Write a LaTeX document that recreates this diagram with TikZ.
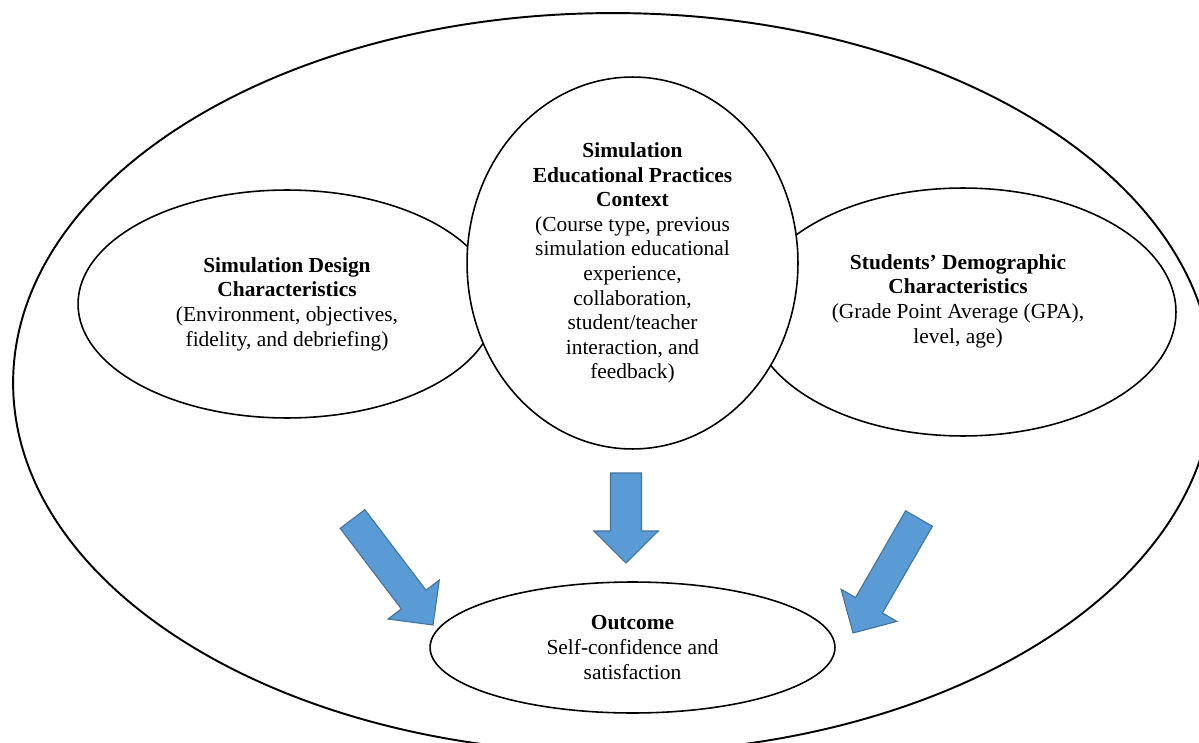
\documentclass[tikz,border=0pt]{standalone}
\usepackage{fontspec}
\setmainfont{Liberation Serif}
\usetikzlibrary{positioning, shapes.geometric, calc}

\definecolor{arrowfill}{HTML}{5B9BD5}
\definecolor{arrowedge}{HTML}{41719C}

% Block arrow from a tail coordinate to a tip coordinate
\newcommand{\blockarrow}[2]{%
    \coordinate (head) at ($(#2)!0.64cm!(#1)$);
    \draw[flow] ($(#1)!0.31cm!90:(#2)$) -- ($(head)!0.31cm!90:(#2)$)
        -- ($(head)!0.645cm!90:(#2)$) -- (#2)
        -- ($(head)!0.645cm!-90:(#2)$) -- ($(head)!0.31cm!-90:(#2)$)
        -- ($(#1)!0.31cm!-90:(#2)$) -- cycle;
}

\begin{document}
\begin{tikzpicture}[
    x=0.02cm, y=-0.02cm,
    font=\fontsize{12.2}{14}\selectfont,
    % Styles
    oval/.style={ % Ellipse around a group of factors
        ellipse,
        draw,
        fill=white,
        line width=0.9pt,
        inner sep=0pt,
        align=center
    },
    txt/.style={ % Free text inside an ellipse
        align=center,
        inner sep=0pt
    },
    flow/.style={ % Blue block arrows
        draw=arrowedge,
        fill=arrowfill,
        line width=0.6pt,
        line join=miter
    }
]
    \useasboundingbox (0,0) rectangle (1199,743);
    \clip (0,0) rectangle (1199,743);

    % Outer frame
    \node[oval, line width=1.1pt, minimum width=24cm, minimum height=14.8cm] (frame) at (613,383) {};

    % Side ellipses
    \node[oval, minimum width=8.36cm, minimum height=4.56cm] (design) at (287,304)
        {\textbf{Simulation Design}\\\textbf{Characteristics}\\(Environment, objectives,\\fidelity, and debriefing)};
    \node[oval, minimum width=8.52cm, minimum height=4.96cm] (demo) at (963,312) {};
    \node[txt] (demotext) at (958,301)
        {\textbf{Students’ Demographic}\\\textbf{Characteristics}\\(Grade Point Average (GPA),\\level, age)};

    % Centre ellipse on top
    \node[oval, minimum width=6.62cm, minimum height=7.44cm] (context) at (632.5,263)
        {\textbf{Simulation}\\\textbf{Educational Practices}\\\textbf{Context}\\(Course type, previous\\simulation educational\\experience,\\collaboration,\\student/teacher\\interaction, and\\feedback)};

    % Outcome
    \node[oval, minimum width=8.1cm, minimum height=2.62cm] (outcome) at (632.5,647.5)
        {\textbf{Outcome}\\Self-confidence and\\satisfaction};

    % Arrows towards the outcome
    \coordinate (tl) at (352.5,519);
    \coordinate (pl) at (433,625);
    \coordinate (tc) at (626,473);
    \coordinate (pc) at (626,563);
    \coordinate (tr) at (919,518.5);
    \coordinate (pr) at (853,633);
    \foreach \a/\b in {tl/pl, tc/pc, tr/pr} {
        \blockarrow{\a}{\b}
    }

\end{tikzpicture}
\end{document}
